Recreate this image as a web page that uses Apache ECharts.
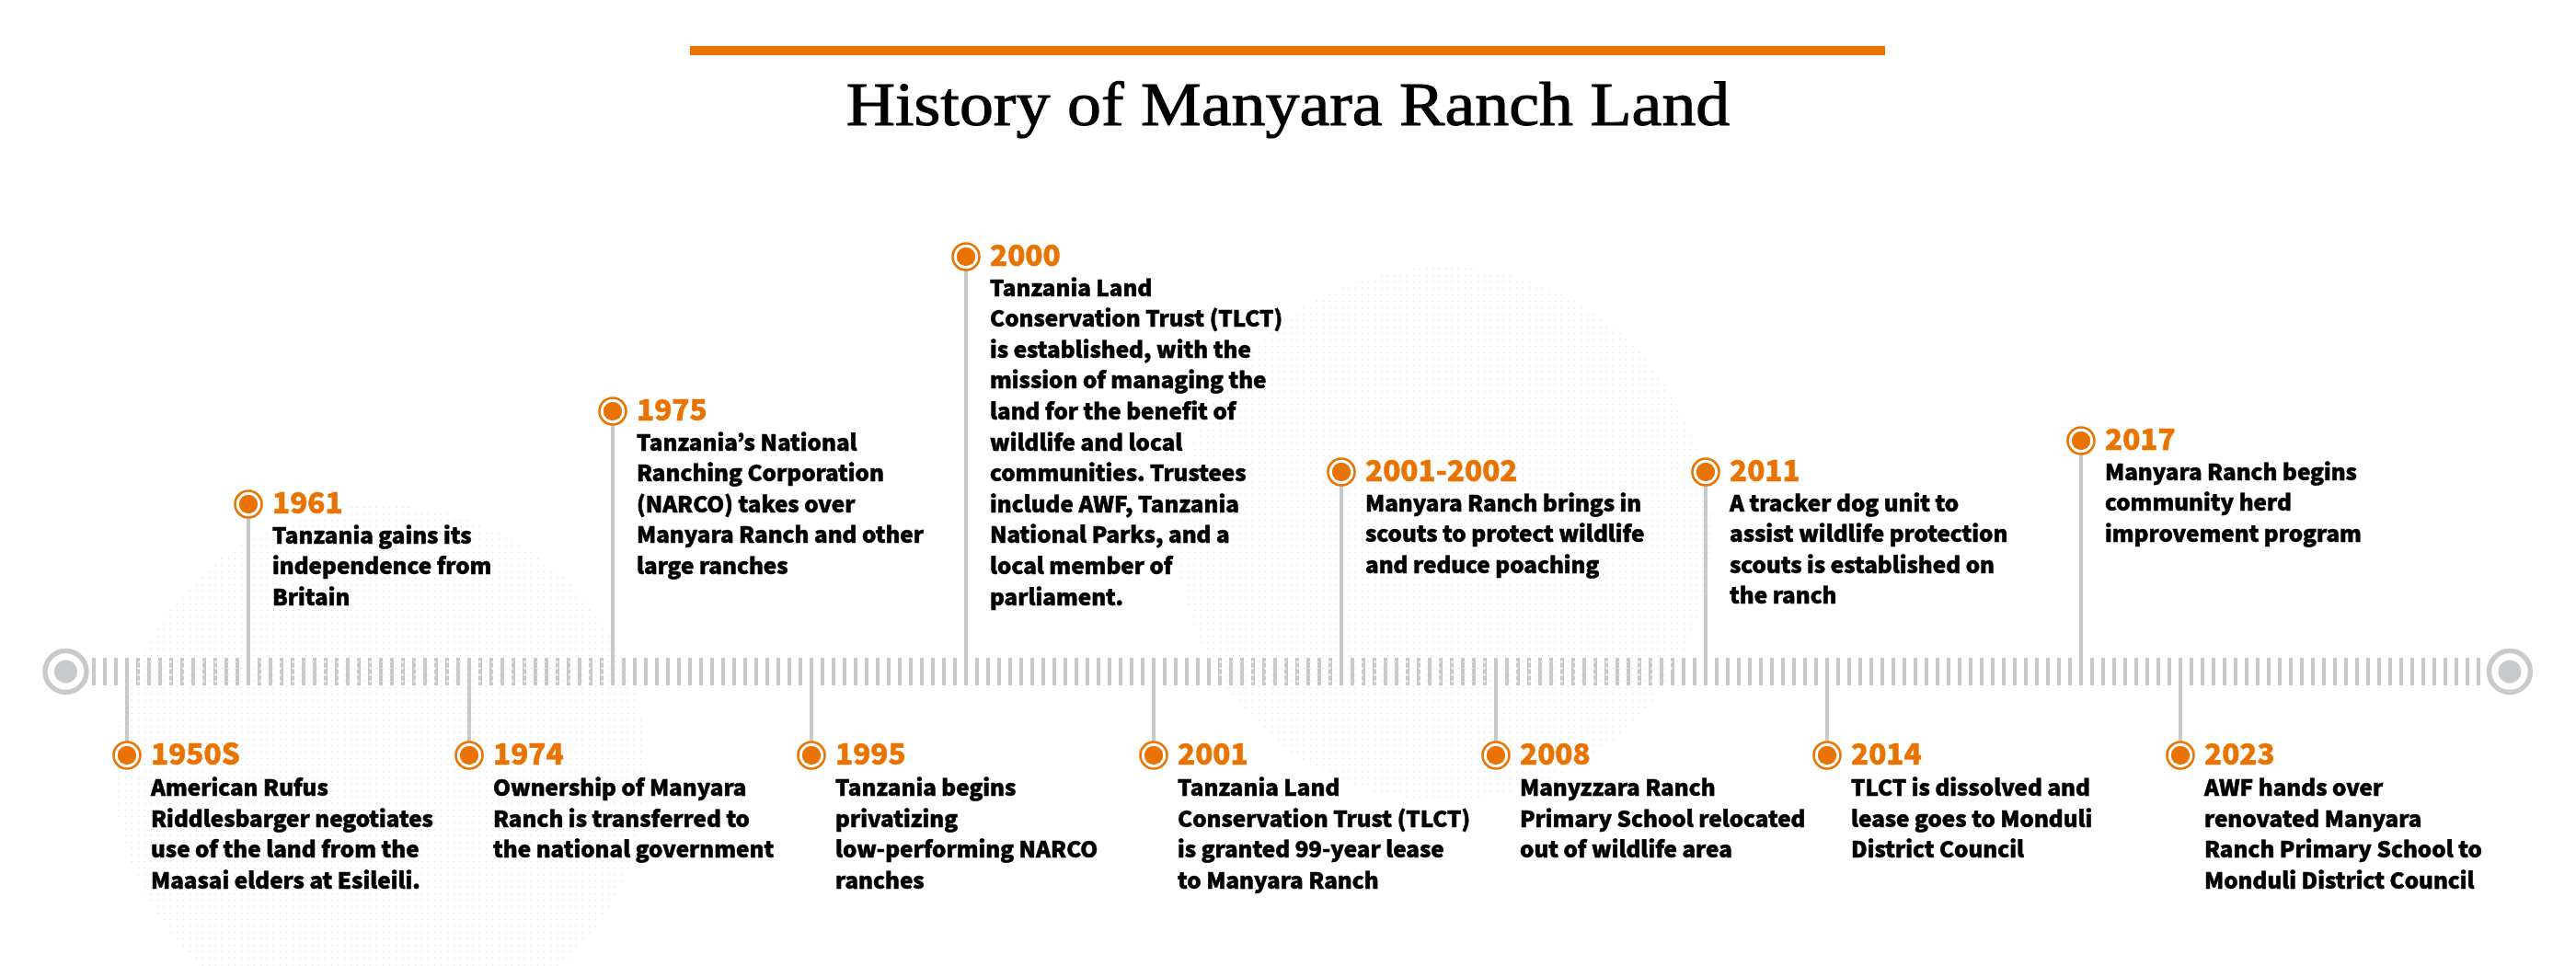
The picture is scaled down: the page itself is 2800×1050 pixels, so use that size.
<!DOCTYPE html>
<html>
<head>
<meta charset="utf-8">
<style>
  html, body { margin: 0; padding: 0; background: #fff; }
  #main { width: 2800px; height: 1050px; }
</style>
<script src="https://cdn.jsdelivr.net/npm/echarts@6/dist/echarts.min.js"></script>
</head>
<body>
<div id="main"></div>
<script>
const titleText = 'History of Manyara Ranch Land'

// x = tick number on the timeline, height = distance above (+) or below (-) the line
const eventYears = ['1950S', '1961', '1974', '1975', '1995', '2000', '2001', '2001-2002', '2008', '2011', '2014', '2017', '2023']
const eventTicks = [3, 14, 34, 47, 65, 79, 96, 113, 127, 146, 157, 180, 189]
const eventHeights = [-91, 182, -91, 283, -91, 451, -91, 217, -91, 217, -91, 251, -91]
const eventTexts = [
  ['American Rufus', 'Riddlesbarger negotiates', 'use of the land from the', 'Maasai elders at Esileili.'],
  ['Tanzania gains its', 'independence from', 'Britain'],
  ['Ownership of Manyara', 'Ranch is transferred to', 'the national government'],
  ['Tanzania\u2019s National', 'Ranching Corporation', '(NARCO) takes over', 'Manyara Ranch and other', 'large ranches'],
  ['Tanzania begins', 'privatizing', 'low-performing NARCO', 'ranches'],
  ['Tanzania Land', 'Conservation Trust (TLCT)', 'is established, with the', 'mission of managing the', 'land for the benefit of', 'wildlife and local', 'communities. Trustees', 'include AWF, Tanzania', 'National Parks, and a', 'local member of', 'parliament.'],
  ['Tanzania Land', 'Conservation Trust (TLCT)', 'is granted 99-year lease', 'to Manyara Ranch'],
  ['Manyara Ranch brings in', 'scouts to protect wildlife', 'and reduce poaching'],
  ['Manyzzara Ranch', 'Primary School relocated', 'out of wildlife area'],
  ['A tracker dog unit to', 'assist wildlife protection', 'scouts is established on', 'the ranch'],
  ['TLCT is dissolved and', 'lease goes to Monduli', 'District Council'],
  ['Manyara Ranch begins', 'community herd', 'improvement program'],
  ['AWF hands over', 'renovated Manyara', 'Ranch Primary School to', 'Monduli District Council']
]

const endTicks = [-2.54, 218.83]

// dotted backdrop discs: centre tick, centre height, radius
const discTicks = [26, 122.3]
const discHeights = [-108, 150]
const discRadii = [289, 290]

const ORANGE = '#e97300'
const GREY = '#c8c9cb'
const FONT = '"Noto Sans CJK KR", "Noto Sans CJK SC", "Noto Sans", sans-serif'

// 7px tile with one faint dot, same pitch as the reference
const tile = document.createElement('canvas')
tile.width = 7
tile.height = 7
const tc = tile.getContext('2d')
tc.fillStyle = '#e2e2e2'
tc.fillRect(3, 5, 1, 1)
tc.fillStyle = '#f7f7f7'
tc.fillRect(2, 5, 1, 1)
tc.fillRect(4, 5, 1, 1)
tc.fillRect(3, 4, 1, 1)
tc.fillRect(3, 6, 1, 1)

function renderDisc (params, api) {
  const c = api.coord([api.value(0), api.value(1)])
  const r = api.size([0, api.value(2)])[1]
  return {
    type: 'circle',
    shape: { cx: c[0], cy: c[1], r: r },
    style: { fill: { image: tile, repeat: 'repeat' } },
    silent: true
  }
}

function renderEnd (params, api) {
  const c = api.coord([api.value(0), api.value(1)])
  return {
    type: 'group',
    children: [
      { type: 'circle', shape: { cx: c[0], cy: c[1], r: 22.5 }, style: { fill: '#fff', stroke: GREY, lineWidth: 5.5 } },
      { type: 'circle', shape: { cx: c[0], cy: c[1], r: 12.5 }, style: { fill: GREY } }
    ]
  }
}

function renderEvent (params, api) {
  const i = params.dataIndex
  const h = api.value(1)
  const p = api.coord([api.value(0), h])
  const base = api.coord([api.value(0), h > 0 ? -15 : 15])
  const textY = h > 0 ? 33.5 : 35
  const children = [
    { type: 'line', shape: { x1: p[0], y1: p[1], x2: base[0], y2: base[1] }, style: { stroke: GREY, lineWidth: 4 } },
    { type: 'circle', shape: { cx: p[0], cy: p[1], r: 14.5 }, style: { fill: '#fff', stroke: ORANGE, lineWidth: 2.6 } },
    { type: 'circle', shape: { cx: p[0], cy: p[1], r: 10.2 }, style: { fill: ORANGE } },
    {
      type: 'text',
      style: {
        x: p[0] + 26, y: p[1] - 2, text: eventYears[i], fill: ORANGE,
        font: '900 31.5px ' + FONT, textAlign: 'left', textVerticalAlign: 'middle',
        stroke: ORANGE, lineWidth: 0.5
      }
    }
  ]
  eventTexts[i].forEach((line, k) => {
    children.push({
      type: 'text',
      style: {
        x: p[0] + 26, y: p[1] + textY + k * 33.6, text: line, fill: '#000',
        font: '900 24.2px ' + FONT, textAlign: 'left', textVerticalAlign: 'middle',
        stroke: '#000', lineWidth: 0.6
      }
    })
  })
  return { type: 'group', children: children }
}

const myChart = echarts.init(document.getElementById('main'), null, { renderer: 'canvas' })
myChart.setOption({
  animation: false,
  backgroundColor: '#fff',
  graphic: [
    { type: 'rect', shape: { x: 750, y: 50, width: 1299, height: 10 }, style: { fill: ORANGE } },
    {
      type: 'text', x: 1400, y: 118, scaleX: 1.087,
      style: {
        text: titleText, fill: '#000', stroke: '#000', lineWidth: 1,
        font: '68px "Liberation Serif", serif', textAlign: 'center', textVerticalAlign: 'middle'
      }
    }
  ],
  grid: { left: 102, right: 106, top: 715, height: 30 },
  xAxis: {
    type: 'value', min: 0, max: 216, interval: 1,
    axisLine: { show: false, onZero: false },
    axisLabel: { show: false },
    splitLine: { show: false },
    axisTick: { show: true, inside: true, length: 30, lineStyle: { color: GREY, width: 4 } }
  },
  yAxis: { type: 'value', min: -15, max: 15, show: false },
  series: [
    {
      type: 'custom', z: 1, clip: false, silent: true,
      renderItem: renderDisc,
      data: discTicks.map((t, i) => [t, discHeights[i], discRadii[i]])
    },
    {
      type: 'custom', z: 3, clip: false, silent: true,
      renderItem: renderEnd,
      data: endTicks.map(t => [t, 0])
    },
    {
      type: 'custom', z: 4, clip: false, silent: true,
      renderItem: renderEvent,
      data: eventTicks.map((t, i) => [t, eventHeights[i]])
    }
  ]
})
</script>
</body>
</html>
